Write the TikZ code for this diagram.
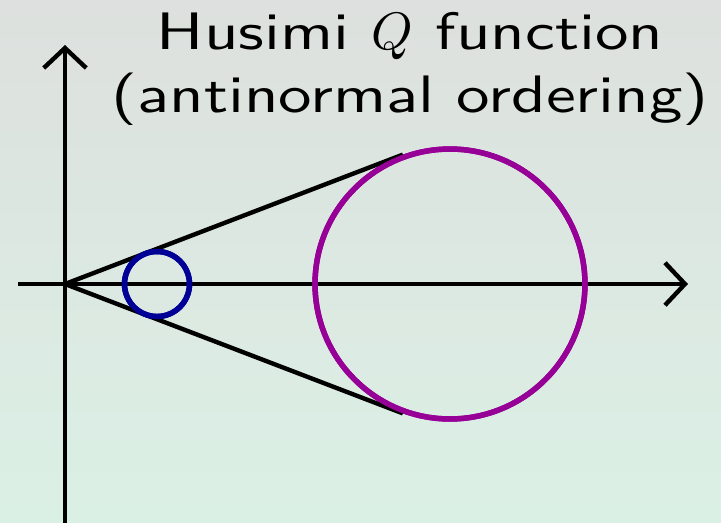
\documentclass[tikz,border=0pt]{standalone}
\usepackage{xcolor}
\usepackage{fontspec}
\usepackage{unicode-math}
\newfontfamily\titlefont[FakeStretch=1.27]{lmsans10-regular.otf}
\usetikzlibrary{arrows.meta}
\definecolor{qblue}{RGB}{0,0,150}
\definecolor{qpurple}{RGB}{150,0,150}
\definecolor{bgtop}{RGB}{221,224,222}
\definecolor{bgbot}{RGB}{219,240,229}

\begin{document}
\begin{tikzpicture}[
  x=0.02cm, y=-0.02cm,
  >={Straight Barb[length=4mm, width=8.5mm]},
  axis/.style={->, line width=2.5pt},
  tangent/.style={line width=2.5pt},
  disk/.style={draw, circle, line width=3.1pt, inner sep=0pt}
]
\shade[top color=bgtop, bottom color=bgbot] (0,0) rectangle (721,522);
\useasboundingbox (0,0) rectangle (721,522);
% axes
\coordinate (o) at (65,284);
\coordinate (xl) at (18,284);
\coordinate (xr) at (688,284);
\coordinate (yb) at (65,530);
\coordinate (yt) at (65,45);
\draw[axis] (xl) -- (xr);
\draw[axis] (yb) -- (yt);
% states
\node[disk, qpurple, minimum size=5.4cm] (coh) at (450,284) {};
\node[disk, qblue, minimum size=1.3cm] (vac) at (157,284) {};
\draw[tangent] (o) -- (coh.110.5);
\draw[tangent] (o) -- (coh.-110.5);
\node[disk, qpurple, minimum size=5.4cm] at (coh) {};
\node[disk, qblue, minimum size=1.3cm] at (vac) {};
% title, cut off at the bottom
\begin{scope}
\clip (0,0) rectangle (721,124);
\node[anchor=base, inner sep=0pt, align=center,
      font=\titlefont\fontsize{30}{35.6}\selectfont] (title) at (410,112)
  {Husimi $Q$ function\\(antinormal ordering)};
\end{scope}
\end{tikzpicture}
\end{document}
